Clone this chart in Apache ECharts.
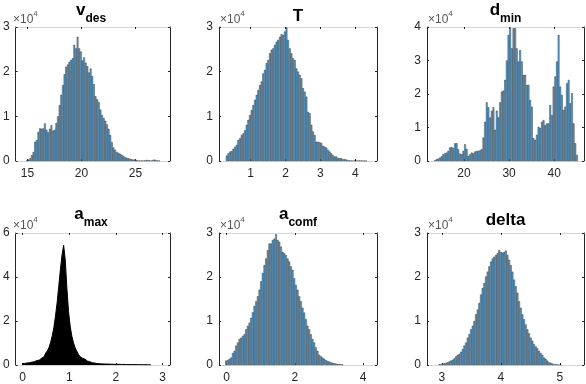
<!DOCTYPE html>
<html>
<head>
<meta charset="utf-8">
<script src="https://cdn.jsdelivr.net/npm/echarts@6/dist/echarts.min.js"></script>
<style>
html, body { margin: 0; padding: 0; background: #fff; }
#main { width: 586px; height: 384px; }
</style>
</head>
<body>
<div id="main"></div>
<script>
// histogram counts, in units of 10^4, one value per bin (bin centre = start + k * width)
var vdesStart = 14.94, vdesWidth = 0.1515;
var vdesCounts = [0.01,0.03,0.06,0.13,0.2,0.43,0.47,0.65,0.73,0.72,0.73,0.84,0.7,0.64,0.72,0.8,0.68,0.7,0.85,1.0,
  1.25,1.48,1.7,1.94,2.11,2.16,2.22,2.26,2.3,2.6,2.52,2.78,2.52,2.45,2.25,2.32,2.2,2.12,1.98,2.07,
  1.9,1.72,1.45,1.38,1.32,1.15,1.03,0.96,0.9,0.82,0.72,0.58,0.42,0.3,0.25,0.2,0.18,0.16,0.14,0.11,
  0.09,0.07,0.06,0.05,0.04,0.03,0.03,0.02,0.01,0.01,0.01,0.01,0.01,0.02,0.02,0.01,0.01,0.02,0.03,0.02,0.01,0.01];
var vdesTicks = [15, 20, 25];

var tStart = 0.314, tWidth = 0.0476;
var tCounts = [0.12,0.17,0.21,0.22,0.27,0.32,0.36,0.47,0.51,0.58,0.62,0.69,0.81,0.92,1.03,1.14,1.25,1.37,1.48,1.59,
  1.7,1.78,1.96,2.04,2.19,2.26,2.41,2.49,2.52,2.6,2.67,2.71,2.78,2.84,2.82,2.9,2.99,2.71,2.52,2.41,
  2.3,2.26,2.07,2.0,1.93,1.85,1.63,1.55,1.44,1.1,1.07,0.81,0.66,0.58,0.43,0.43,0.42,0.4,0.34,0.32,
  0.3,0.25,0.21,0.17,0.13,0.1,0.1,0.07,0.06,0.06,0.04,0.04,0.03,0.02,0.01,0.01,0.01,0.01,0.01,0.01,
  0.01,0.01,0.01,0.005,0.005];
var tTicks = [1, 2, 3, 4];

var dminStart = 13.56, dminWidth = 0.3704;
var dminCounts = [0.02,0.05,0.07,0.1,0.14,0.2,0.23,0.25,0.3,0.4,0.42,0.38,0.53,0.53,0.35,0.22,0.2,0.3,0.5,0.36,
  0.15,0.2,0.25,0.23,0.28,0.3,0.3,0.32,0.35,0.7,1.17,1.75,1.6,1.3,1.5,1.6,0.93,1.5,1.3,1.75,
  2.07,2.1,2.42,3.0,3.76,3.98,3.36,3.96,3.96,3.36,2.97,3.31,2.97,2.57,2.57,2.27,2.27,1.82,1.62,0.68,
  0.63,0.78,1.02,0.98,1.17,1.22,1.07,1.12,1.12,1.67,1.37,2.22,2.52,2.97,3.76,2.22,1.97,1.52,1.62,2.32,
  2.42,1.72,2.02,1.12,0.53,0.18];
var dminTicks = [20, 30, 40];

var amaxStart = -0.014, amaxWidth = 0.035;
var amaxCounts = [0.07,0.07,0.09,0.09,0.1,0.12,0.13,0.15,0.16,0.2,0.22,0.27,0.31,0.37,0.45,0.54,0.64,0.79,1.02,1.32,
  1.69,2.22,2.82,3.57,4.32,4.99,5.44,4.77,3.49,2.44,1.77,1.32,1.02,0.79,0.64,0.49,0.39,0.31,0.27,0.22,
  0.18,0.15,0.12,0.1,0.09,0.07,0.065,0.06,0.055,0.05,0.048,0.045,0.042,0.04,0.037,0.035,0.032,0.03,0.03,0.03,
  0.027,0.025,0.025,0.025,0.022,0.02,0.02,0.02,0.02,0.02,0.018,0.015,0.015,0.015,0.012,0.01,0.01,0.01,0.008,0.005];
var amaxTicks = [0, 1, 2, 3];

var acomfStart = -0.01, acomfWidth = 0.0487;
var acomfCounts = [0.1,0.11,0.14,0.17,0.27,0.32,0.44,0.51,0.59,0.62,0.66,0.7,0.81,0.89,0.96,1.07,1.2,1.34,1.45,1.56,
  1.71,1.9,2.09,2.27,2.42,2.61,2.76,2.76,2.84,2.87,2.97,2.84,2.8,2.69,2.57,2.54,2.5,2.42,2.35,2.24,
  2.16,1.97,1.82,1.71,1.56,1.45,1.3,1.19,1.04,0.89,0.81,0.7,0.59,0.51,0.4,0.32,0.23,0.2,0.17,0.14,
  0.11,0.09,0.08,0.06,0.05,0.04,0.03,0.02,0.02,0.015,0.01];
var acomfTicks = [0, 2, 4];

var deltaStart = 2.96, deltaWidth = 0.02815;
var deltaCounts = [0.015,0.02,0.03,0.04,0.05,0.06,0.08,0.1,0.12,0.15,0.2,0.23,0.25,0.3,0.36,0.44,0.51,0.62,0.7,0.81,
  0.89,1.0,1.15,1.26,1.41,1.6,1.75,1.86,2.01,2.12,2.24,2.35,2.42,2.46,2.5,2.54,2.61,2.57,2.55,2.57,
  2.6,2.5,2.39,2.27,2.12,1.94,1.79,1.64,1.45,1.3,1.15,1.04,0.92,0.81,0.72,0.62,0.55,0.47,0.42,0.38,
  0.32,0.27,0.23,0.17,0.14,0.1,0.06,0.05,0.03,0.02,0.015,0.01,0.01,0.005];
var deltaTicks = [3, 4, 5];

var fontFamily = "'Liberation Sans', Arial, Helvetica, sans-serif";
var ink = '#262626';
var blue = '#62aadd';

var panels = [
  {main: 'v', sub: 'des', start: vdesStart, width: vdesWidth, counts: vdesCounts, ticks: vdesTicks,
   xMin: 13.9, xMax: 28.2, yMax: 3, yStep: 1, fill: blue, box: [12, 27, 158, 134]},
  {main: 'T', sub: '', start: tStart, width: tWidth, counts: tCounts, ticks: tTicks,
   xMin: 0.094, xMax: 4.62, yMax: 3, yStep: 1, fill: blue, box: [219, 27, 158, 134]},
  {main: 'd', sub: 'min', start: dminStart, width: dminWidth, counts: dminCounts, ticks: dminTicks,
   xMin: 11.8, xMax: 46.6, yMax: 4, yStep: 1, fill: blue, box: [427, 27, 157, 134]},
  {main: 'a', sub: 'max', start: amaxStart, width: amaxWidth, counts: amaxCounts, ticks: amaxTicks,
   xMin: -0.15, xMax: 3.16, yMax: 6, yStep: 2, fill: '#000', box: [12, 233, 158, 133]},
  {main: 'a', sub: 'comf', start: acomfStart, width: acomfWidth, counts: acomfCounts, ticks: acomfTicks,
   xMin: -0.22, xMax: 4.41, yMax: 3, yStep: 1, fill: blue, box: [219, 233, 158, 133]},
  {main: 'delta', sub: '', start: deltaStart, width: deltaWidth, counts: deltaCounts, ticks: deltaTicks,
   xMin: 2.75, xMax: 5.41, yMax: 3, yStep: 1, fill: blue, box: [427, 233, 157, 133]}
];

var grids = [], xAxes = [], yAxes = [], series = [], graphics = [];

panels.forEach(function (p, i) {
  var b = p.box;
  grids.push({left: b[0], top: b[1], width: b[2], height: b[3]});

  var lightLine = {show: true, onZero: false, lineStyle: {color: '#d6d6d6', width: 1}};
  var darkLine = {show: true, onZero: false, lineStyle: {color: ink, width: 1}};
  var tick = {show: true, inside: true, length: 2, customValues: p.ticks, lineStyle: {color: ink}};

  xAxes.push({
    gridIndex: i, type: 'value', position: 'bottom', min: p.xMin, max: p.xMax,
    axisLine: lightLine, axisTick: tick,
    axisLabel: {customValues: p.ticks, margin: 7, fontSize: 12, color: ink, fontFamily: fontFamily},
    splitLine: {show: false}
  });
  xAxes.push({
    gridIndex: i, type: 'value', position: 'top', min: p.xMin, max: p.xMax,
    axisLine: lightLine, axisTick: tick, axisLabel: {show: false}, splitLine: {show: false}
  });
  yAxes.push({
    gridIndex: i, type: 'value', position: 'left', min: 0, max: p.yMax, interval: p.yStep,
    axisLine: darkLine, axisTick: {show: true, inside: true, length: 2, lineStyle: {color: ink}},
    axisLabel: {margin: 6, fontSize: 12, color: ink, fontFamily: fontFamily},
    splitLine: {show: false}
  });
  yAxes.push({
    gridIndex: i, type: 'value', position: 'right', min: 0, max: p.yMax, interval: p.yStep,
    axisLine: darkLine, axisTick: {show: true, inside: true, length: 2, lineStyle: {color: ink}},
    axisLabel: {show: false}, splitLine: {show: false}
  });

  var data = p.counts.map(function (c, k) { return [p.start + k * p.width, c]; });
  if (p.fill === '#000') {
    // bins too dense to separate: draw as a filled stepped outline
    series.push({
      type: 'line', xAxisIndex: 2 * i, yAxisIndex: 2 * i, silent: true, step: 'middle',
      symbol: 'none', data: data,
      lineStyle: {color: '#000', width: 1}, areaStyle: {color: '#000', opacity: 1}
    });
  } else {
    series.push({
      type: 'bar', xAxisIndex: 2 * i, yAxisIndex: 2 * i, silent: true, barWidth: '100%',
      data: data,
      itemStyle: {color: p.fill, borderColor: '#000', borderWidth: 0.35}
    });
  }

  // title, MATLAB style with subscript
  var titleText = p.sub ? '{m|' + p.main + '}{s|' + p.sub + '}' : '{p|' + p.main + '}';
  graphics.push({
    type: 'text', x: b[0] + b[2] / 2, y: i < 3 ? 1.5 : 206,
    style: {
      text: titleText, align: 'center', verticalAlign: 'top',
      rich: {
        m: {fontSize: 17, fontWeight: 'bold', fontFamily: fontFamily, fill: '#000', lineHeight: 23, verticalAlign: 'top'},
        s: {fontSize: 12, fontWeight: 'bold', fontFamily: fontFamily, fill: '#000', lineHeight: 23, verticalAlign: 'bottom'},
        p: {fontSize: 17, fontWeight: 'bold', fontFamily: fontFamily, fill: '#000', lineHeight: 23, verticalAlign: 'bottom'}
      }
    }
  });
  // exponent label
  graphics.push({
    type: 'text', x: b[0] + 1, y: b[1] - 17.7,
    style: {
      text: '{a|\u00d710}{b|4}', align: 'left', verticalAlign: 'top',
      rich: {
        a: {fontSize: 12, fontFamily: fontFamily, fill: '#555', lineHeight: 16, verticalAlign: 'bottom'},
        b: {fontSize: 8, fontFamily: fontFamily, fill: '#555', lineHeight: 16, verticalAlign: 'top'}
      }
    }
  });
});

var chart = echarts.init(document.getElementById('main'));
chart.setOption({
  animation: false,
  backgroundColor: '#fff',
  grid: grids,
  xAxis: xAxes,
  yAxis: yAxes,
  series: series,
  graphic: graphics
});
</script>
</body>
</html>
